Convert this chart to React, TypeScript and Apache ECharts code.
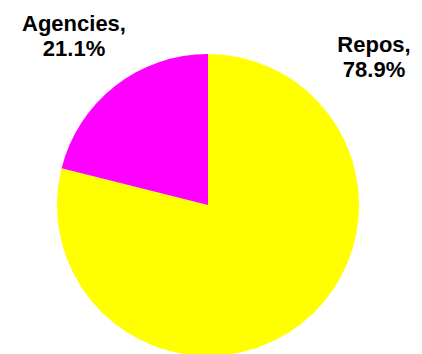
import React, { useEffect, useRef } from "react";
import * as echarts from "echarts";

const categories = ["Repos", "Agencies"];
const shares = [78.9, 21.1];
const colors = ["#FFFF00", "#FF00FF"];
const labelAnchors = [
  [374, 57],
  [74, 36],
];

export default function App() {
  const ref = useRef<HTMLDivElement>(null);
  useEffect(() => {
    document.body.style.margin = "0";
    const chart = echarts.init(ref.current!, null, { renderer: "svg" });
    chart.setOption({
      animation: false,
      backgroundColor: "#ffffff",
      series: [
        {
          type: "pie",
          center: [208, 205],
          radius: 151,
          startAngle: 90,
          clockwise: true,
          silent: true,
          data: categories.map((name, i) => ({
            name,
            value: shares[i],
            itemStyle: { color: colors[i] },
          })),
          label: {
            show: true,
            position: "inside",
            overflow: "none",
            formatter: (p: any) => `${p.name},\n${p.value.toFixed(1)}%`,
            fontFamily: "Liberation Sans, Arial, sans-serif",
            fontWeight: "bold",
            fontSize: 22,
            lineHeight: 25,
            color: "#000000",
            align: "center",
          },
          labelLine: { show: false },
          labelLayout: (params: any) => ({
            x: labelAnchors[params.dataIndex][0],
            y: labelAnchors[params.dataIndex][1],
            align: "center",
            verticalAlign: "middle",
          }),
        },
      ],
    });
    return () => chart.dispose();
  }, []);
  return (
    <div
      ref={ref}
      style={{ position: "fixed", left: 0, top: 0, width: 422, height: 354 }}
    />
  );
}
